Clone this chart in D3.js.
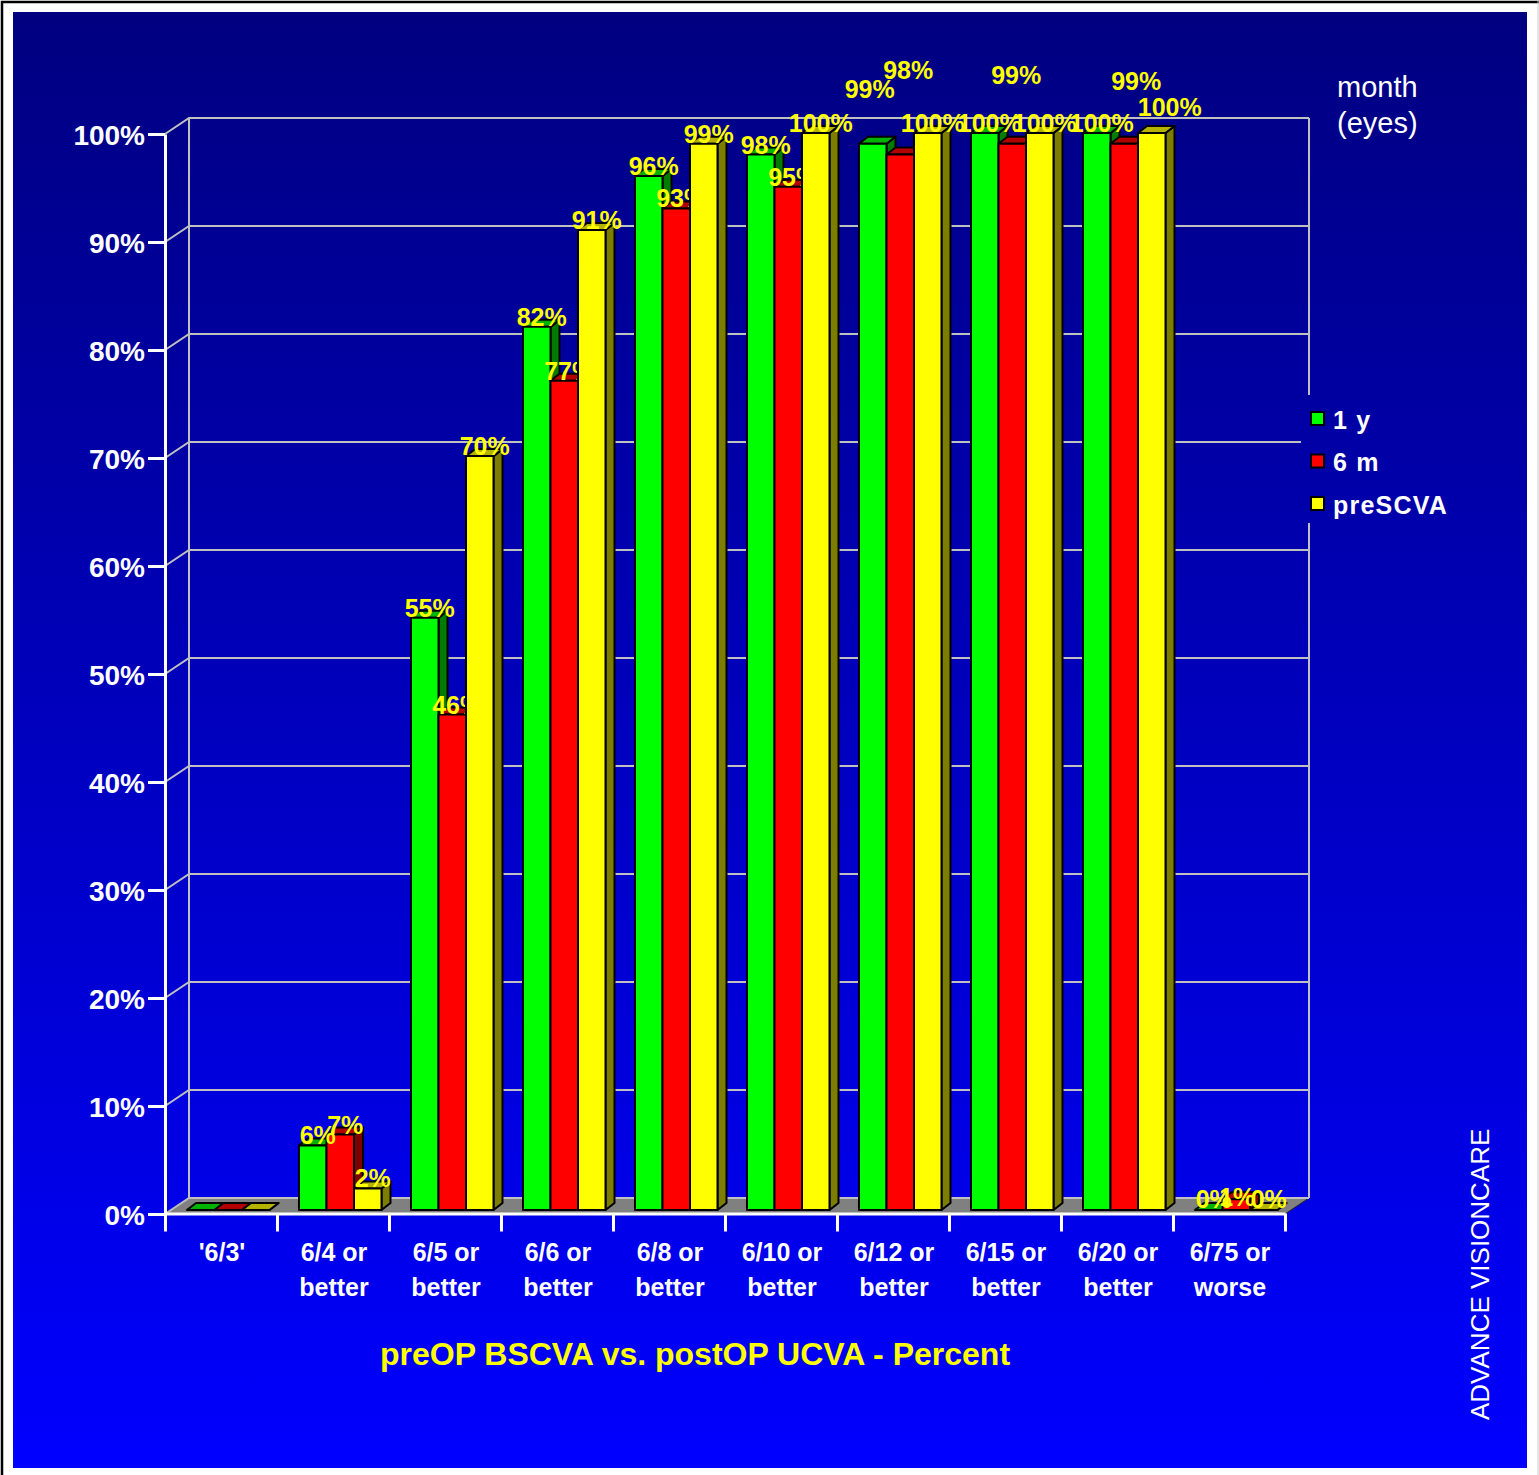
<!DOCTYPE html>
<html>
<head>
<meta charset="utf-8">
<script src="https://cdn.jsdelivr.net/npm/d3@7"></script>
<style>
  body { margin: 0; background: #fff; }
  svg { display: block; font-family: "Liberation Sans", Arial, sans-serif; }
</style>
</head>
<body>
<div id="chart"></div>
<script>
// data
const categories = ["'6/3'", '6/4 or better', '6/5 or better', '6/6 or better', '6/8 or better',
  '6/10 or better', '6/12 or better', '6/15 or better', '6/20 or better', '6/75 or worse'];
const seriesNames = ['1 y', '6 m', 'preSCVA'];
const oneYear  = [0, 6, 55, 82, 96, 98, 99, 100, 100, 0];
const sixMonth = [0, 7, 46, 77, 93, 95, 98, 99, 99, 1];
const preSCVA  = [0, 2, 70, 91, 99, 100, 100, 100, 100, 0];
const yTicks = [0, 10, 20, 30, 40, 50, 60, 70, 80, 90, 100];
const title = 'preOP BSCVA vs. postOP UCVA - Percent';

// layout / style
const colors = ['#00ff00', '#ff0000', '#ffff00'];
const noLabels = ["'6/3'"];
const labelNudge = { // [dx, dy] for the data labels that were moved by hand
  '6/12 or better|0': [-8, -45], '6/12 or better|1': [3, -75],
  '6/15 or better|1': [-1, -59],
  '6/20 or better|1': [7, -53], '6/20 or better|2': [13, -16],
  '6/75 or worse|0': [0, -1], '6/75 or worse|1': [-4, 8], '6/75 or worse|2': [0, -1]
};
const FONT = '"Liberation Sans", Arial, sans-serif';
const W = 1539, H = 1475;
const M = { l: 165, r: 1285, t: 134, b: 1214 };
const WX = 24, WY = -16;   // wall depth
const BX = 9, BY = -7;     // bar depth

const values = [oneYear, sixMonth, preSCVA];

const svg = d3.select('#chart').append('svg').attr('width', W).attr('height', H);
const grad = svg.append('defs').append('linearGradient').attr('id', 'bg')
  .attr('gradientUnits', 'userSpaceOnUse').attr('x1', 0).attr('y1', 12).attr('x2', 0).attr('y2', 1468);
grad.append('stop').attr('offset', 0).attr('stop-color', '#000080');
grad.append('stop').attr('offset', 1).attr('stop-color', '#0000ff');

svg.append('rect').attr('x', 13).attr('y', 12).attr('width', 1514).attr('height', 1456).attr('fill', 'url(#bg)');
svg.append('path').attr('d', `M2,${H}V2H${W}`).attr('fill', 'none').attr('stroke', '#000').attr('stroke-width', 2.5);
svg.append('line').attr('x1', W - 1).attr('x2', W - 1).attr('y1', 0).attr('y2', H).attr('stroke', '#ccc');

const x = d3.scaleBand().domain(categories).range([M.l, M.r]);
const xs = d3.scaleBand().domain(seriesNames).range([22, 104.5]);
const y = d3.scaleLinear().domain([0, 100]).range([M.b, M.t]);
const yBar = d3.scaleLinear().domain([0, 100]).range([1210, 133]);

// floor
svg.append('path')
  .attr('d', `M${M.l},${M.b}L${M.l + WX},${M.b + WY}H${M.r + WX}L${M.r},${M.b}Z`)
  .attr('fill', '#808080').attr('stroke', '#222').attr('stroke-width', 1);

// back + side walls
const grid = svg.append('g').attr('stroke', '#c0c0c0').attr('stroke-width', 2).attr('fill', 'none');
grid.selectAll('path.h').data(yTicks).enter().append('path')
  .attr('d', d => `M${M.l},${y(d)}L${M.l + WX},${y(d) + WY}H${M.r + WX}`);
grid.append('path').attr('d', `M${M.l + WX},${y(0) + WY}V${y(100) + WY}`);
grid.append('path').attr('d', `M${M.r + WX},${y(0) + WY}V${y(100) + WY}`);

// legend background cuts the wall lines
svg.append('rect').attr('x', 1301).attr('y', 395).attr('width', 160).attr('height', 128).attr('fill', 'url(#bg)');

// y axis
const yAxis = svg.append('g').attr('transform', `translate(${M.l},0)`)
  .call(d3.axisLeft(y).tickValues(yTicks).tickSize(17).tickSizeOuter(0).tickPadding(3).tickFormat(d => d + '%'));
yAxis.select('.domain').attr('stroke', '#fff').attr('stroke-width', 3);
yAxis.selectAll('.tick line').attr('stroke', '#fff').attr('stroke-width', 3);
yAxis.selectAll('.tick text').attr('fill', '#fff').attr('font-family', FONT)
  .attr('font-size', 28).attr('font-weight', 'bold').attr('dy', '0.37em');

// x axis with ticks on category boundaries
const xb = d3.scaleLinear().domain([0, categories.length]).range([M.l, M.r]);
const xAxis = svg.append('g').attr('transform', `translate(0,${M.b - 0.5})`)
  .call(d3.axisBottom(xb).tickValues(d3.range(categories.length + 1)).tickSize(18).tickSizeOuter(0).tickFormat(''));
xAxis.select('.domain').attr('stroke', '#fff').attr('stroke-width', 3);
xAxis.selectAll('.tick line').attr('stroke', '#fff').attr('stroke-width', 3);

const catText = svg.append('g').attr('fill', '#fff').attr('font-size', 25).attr('font-weight', 'bold')
  .attr('text-anchor', 'middle');
categories.forEach(c => {
  const i = c.indexOf(' or ');
  const lines = i < 0 ? [c] : [c.slice(0, i + 3), c.slice(i + 4)];
  const t = catText.append('text').attr('x', x(c) + x.bandwidth() / 2 + 1).attr('y', 1261);
  lines.forEach((l, k) => t.append('tspan').attr('x', x(c) + x.bandwidth() / 2 + 1).attr('dy', k ? 35 : 0).text(l));
});

// bars
const bars = svg.append('g');
function drawBar(c, s) {
  const v = values[s][categories.indexOf(c)];
  const x0 = x(c) + xs(seriesNames[s]), w = xs.bandwidth();
  const yt = yBar(v), yb = yBar(0);
  const col = d3.rgb(colors[s]);
  const g = bars.append('g').attr('stroke', '#000').attr('stroke-width', 2).attr('stroke-linejoin', 'round');
  g.append('path').attr('fill', col.darker(2))
    .attr('d', `M${x0 + w},${yt}L${x0 + w + BX},${yt + BY}V${yb + BY}L${x0 + w},${yb}Z`);
  g.append('path').attr('fill', col.darker(1))
    .attr('d', `M${x0},${yt}L${x0 + BX},${yt + BY}H${x0 + w + BX}L${x0 + w},${yt}Z`);
  if (yb - yt > 0.5) g.append('rect').attr('x', x0).attr('y', yt).attr('width', w).attr('height', yb - yt).attr('fill', col);
}
function drawLabel(c, s) {
  if (noLabels.includes(c)) return;
  const v = values[s][categories.indexOf(c)];
  const n = labelNudge[c + '|' + s] || [0, 0];
  bars.append('text')
    .attr('x', x(c) + xs(seriesNames[s]) + xs.bandwidth() / 2 + 5 + n[0])
    .attr('y', yBar(v) - 1 + n[1])
    .attr('text-anchor', 'middle').attr('fill', '#ffff00')
    .attr('font-size', 25).attr('font-weight', 'bold')
    .text(v + '%');
}
categories.forEach(c => {
  drawBar(c, 0); drawBar(c, 1);
  drawLabel(c, 0); drawLabel(c, 1);
  drawBar(c, 2); drawLabel(c, 2);
});

// legend
const leg = svg.append('g');
svg.append('text').attr('x', 1337).attr('y', 97).attr('fill', '#fff').attr('font-size', 29).text('month');
svg.append('text').attr('x', 1337).attr('y', 133).attr('fill', '#fff').attr('font-size', 29).text('(eyes)');
seriesNames.forEach((s, i) => {
  const yy = 412 + i * 42.5;
  leg.append('rect').attr('x', 1311).attr('y', yy).attr('width', 13).attr('height', 13)
    .attr('fill', colors[i]).attr('stroke', '#000').attr('stroke-width', 2);
  leg.append('text').attr('x', 1333).attr('y', yy + 16.5).attr('fill', '#fff')
    .attr('font-size', 25).attr('font-weight', 'bold').attr('letter-spacing', 1.2).text(s);
});

// title + watermark
svg.append('text').attr('x', 695).attr('y', 1365).attr('text-anchor', 'middle')
  .attr('fill', '#ffff00').attr('font-size', 32).attr('font-weight', 'bold').text(title);
svg.append('text').attr('transform', 'translate(1489,1420) rotate(-90)')
  .attr('fill', '#fff').attr('font-size', 26).text('ADVANCE VISIONCARE');
</script>
</body>
</html>
